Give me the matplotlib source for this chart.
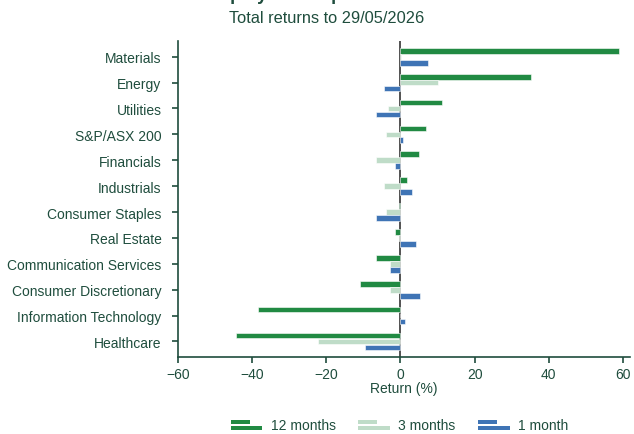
import matplotlib.pyplot as plt
import numpy as np
from matplotlib.patches import Rectangle
from matplotlib.legend_handler import HandlerBase

# Sector returns (%)
sectors = ["Materials", "Energy", "Utilities", "S&P/ASX 200", "Financials",
           "Industrials", "Consumer Staples", "Real Estate",
           "Communication Services", "Consumer Discretionary",
           "Information Technology", "Healthcare"]
ret_12m = [59.0, 35.2, 11.3, 7.0, 4.9, 1.7, -0.5, -1.4, -6.6, -11.0, -38.5, -44.3]
ret_3m = [0.2, 10.2, -3.3, -3.9, -6.5, -4.5, -4.0, -0.5, -2.9, -2.9, 0.0, -22.2]
ret_1m = [7.5, -4.5, -6.6, 0.8, -1.6, 3.1, -6.5, 4.2, -2.8, 5.3, 1.2, -9.6]
series_names = ["12 months", "3 months", "1 month"]
colors = ["#218a43", "#bfdcc8", "#3f74b5"]
text_col = "#1f4d3d"

plt.rcParams['font.family'] = ['Liberation Sans', 'DejaVu Sans']

fig = plt.figure(figsize=(6.34, 4.35), dpi=100)
ax = fig.add_axes([0.281, 0.177, 0.713, 0.726])

y = np.arange(len(sectors))
h = 0.22
off = 0.23
for vals, dy, c in zip([ret_12m, ret_3m, ret_1m], [-off, 0, off], colors):
    ax.barh(y + dy, vals, height=h, color=c, edgecolor="white", linewidth=0.4, zorder=3)

ax.axvline(0, color="#333333", linewidth=1.2, zorder=1)

ax.set_ylim(len(sectors) - 0.4, -0.6)
ax.set_xlim(-60, 62)
ax.set_yticks(y)
ax.set_yticklabels(sectors)
ax.set_xticks([-60, -40, -20, 0, 20, 40, 60])
ax.set_xlabel("Return (%)", color=text_col, fontsize=10, labelpad=0)

for s in ["top", "right"]:
    ax.spines[s].set_visible(False)
for s in ["left", "bottom"]:
    ax.spines[s].set_color(text_col)
    ax.spines[s].set_linewidth(1.2)
ax.tick_params(axis="both", colors=text_col, labelcolor=text_col, labelsize=10,
               direction="out", length=4, width=1.2)
ax.tick_params(axis="y", pad=8)

# main title sits above the visible area, only descenders show, as in the source image
fig.text(0.515, 1.001, "Equity sector performance", ha="center", va="baseline",
         fontsize=13, fontweight="bold", color=text_col)
fig.text(0.515, 0.957, "Total returns to 29/05/2026", ha="center", va="center",
         fontsize=11.8, color=text_col)


class TwoBarHandler(HandlerBase):
    def __init__(self, color):
        super().__init__()
        self.color = color

    def create_artists(self, legend, orig_handle, xdescent, ydescent,
                       width, height, fontsize, trans):
        r1 = Rectangle((-xdescent, -ydescent + height * 0.55), width * 0.6, height * 0.38,
                       facecolor=self.color, edgecolor="none", transform=trans)
        r2 = Rectangle((-xdescent, -ydescent), width, height * 0.38,
                       facecolor=self.color, edgecolor="none", transform=trans)
        return [r1, r2]


handles = [Rectangle((0, 0), 1, 1, color=c) for c in colors]
fig.legend(handles, series_names, loc="center", bbox_to_anchor=(0.63, 0.02),
           ncol=3, frameon=False, fontsize=10, labelcolor=text_col,
           handlelength=2.3, handleheight=0.9, columnspacing=1.6, handletextpad=0.6,
           handler_map={h_: TwoBarHandler(c) for h_, c in zip(handles, colors)})

fig.savefig("out.png", dpi=100)
